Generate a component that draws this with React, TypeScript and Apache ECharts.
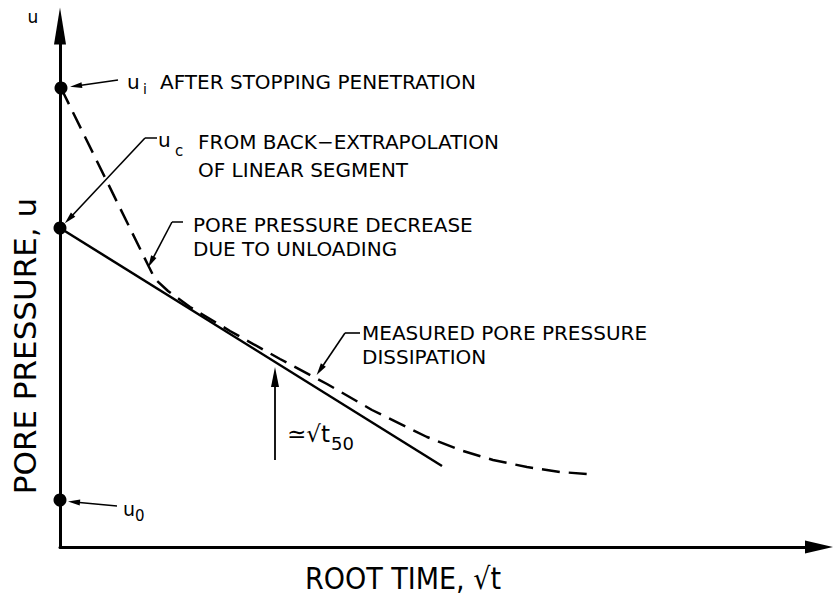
import React, { useEffect, useRef } from 'react';
import * as echarts from 'echarts';

// Schematic units: x = root time, y = pore pressure (arbitrary)
const X_MAX = 759;
const Y_MAX = 521;

// Linear segment back-extrapolated to u_c
const linearSegment: [number, number][] = [
  [0, 319],
  [382, 81],
];

// Measured pore pressure dissipation (dashed)
const measuredCurve: [number, number][] = [
  [1, 459], [89, 280], [95, 268], [108, 256], [130, 240], [170, 216], [220, 188], [267, 163],
  [312, 137], [367, 110], [400, 97], [433, 87], [467, 80], [500, 75], [528, 73],
];

// Key pore pressures marked on the u axis
const keyPointNames = ['u_i', 'u_c', 'u_0'];
const keyPointValues: [number, number][] = [
  [1, 459],
  [0, 319],
  [0, 47],
];

// Leader stubs (no arrowhead) and pointers (arrowhead at end)
const leaderStubs: [number, number][][] = [
  [[97, 409], [85, 409]],
  [[123, 325], [112, 325]],
  [[300, 214], [285, 214]],
];
const leaderPointers: [number, number][][] = [
  [[58, 467], [16, 461]],
  [[85, 409], [9, 328]],
  [[112, 325], [91, 285]],
  [[285, 214], [260, 177]],
  [[57, 41], [14, 45]],
];

// Arrow marking ~sqrt(t50)
const t50Arrow: [number, number][] = [
  [215, 87],
  [215, 170],
];

// Texts
const axisTopLabel = 'u';
const noteUi = 'AFTER STOPPING PENETRATION';
const noteUcLines = ['FROM BACK\u2212EXTRAPOLATION', 'OF LINEAR SEGMENT'];
const noteUnloadLines = ['PORE PRESSURE DECREASE', 'DUE TO UNLOADING'];
const noteMeasuredLines = ['MEASURED PORE PRESSURE', 'DISSIPATION'];
const xAxisTitle = 'ROOT TIME, \u221At';
const yAxisTitle = 'PORE PRESSURE, u';
const t50Main = '\u2243\u221At';
const t50Sub = '50';

const FONT = '"DejaVu Sans", "Liberation Sans", sans-serif';
const FONT_C = '"DejaVu Sans Condensed", "DejaVu Sans", sans-serif';

function txt(text: string, x: number, y: number, size: number, extra: any = {}) {
  return {
    type: 'text',
    x,
    y,
    silent: true,
    rotation: extra.rotation || 0,
    style: {
      text,
      fontSize: size,
      fontFamily: extra.family || FONT,
      fill: '#000',
      align: extra.align || 'left',
      verticalAlign: 'middle',
    },
  };
}

export default function App() {
  const ref = useRef<HTMLDivElement>(null);

  useEffect(() => {
    document.body.style.margin = '0';
    if (!ref.current) return;
    const chart = echarts.init(ref.current, null, { renderer: 'svg' });

    const graphic: any[] = [
      txt(axisTopLabel, 33, 17, 17, { align: 'center' }),
      txt('u', 127, 82, 20),
      txt('i', 143, 89, 14),
      txt(noteUi, 160, 82, 20),
      txt('u', 158, 140, 20),
      txt('c', 175, 151, 15),
      txt(noteUcLines[0], 198, 142, 20),
      txt(noteUcLines[1], 198, 170, 20),
      txt(noteUnloadLines[0], 193, 225, 20),
      txt(noteUnloadLines[1], 193, 249, 20),
      txt(noteMeasuredLines[0], 362, 333, 20),
      txt(noteMeasuredLines[1], 362, 357, 20),
      txt('u', 123, 509, 19),
      txt('0', 135, 516, 15),
      txt(t50Main, 287, 434, 23),
      txt(t50Sub, 331, 443, 18),
      txt(xAxisTitle, 403, 578, 30, { align: 'center', family: FONT_C }),
      txt(yAxisTitle, 25, 346, 31, { align: 'center', rotation: Math.PI / 2 }),
    ];

    const axisCommon = {
      type: 'value',
      axisTick: { show: false },
      axisLabel: { show: false },
      splitLine: { show: false },
    };

    chart.setOption({
      animation: false,
      backgroundColor: '#fff',
      grid: { left: 60, right: 14, top: 26, bottom: 50 },
      xAxis: {
        ...axisCommon,
        min: 0,
        max: X_MAX,
        axisLine: {
          show: true,
          symbol: ['none', 'triangle'],
          symbolSize: [13, 28],
          lineStyle: { color: '#000', width: 3 },
        },
      },
      yAxis: {
        ...axisCommon,
        min: 0,
        max: Y_MAX,
        axisLine: {
          show: true,
          symbol: ['none', 'triangle'],
          symbolSize: [12, 37],
          lineStyle: { color: '#000', width: 3 },
        },
      },
      series: [
        {
          type: 'line',
          data: linearSegment,
          showSymbol: false,
          lineStyle: { color: '#000', width: 2.5 },
          z: 3,
        },
        {
          type: 'line',
          data: measuredCurve,
          showSymbol: false,
          smooth: false,
          lineStyle: { color: '#000', width: 2.5, type: [18, 9] },
          z: 3,
        },
        {
          type: 'lines',
          coordinateSystem: 'cartesian2d',
          symbol: ['none', 'none'],
          lineStyle: { color: '#000', width: 1.6, opacity: 1 },
          data: leaderStubs.map((coords) => ({ coords })),
          z: 4,
        },
        {
          type: 'lines',
          coordinateSystem: 'cartesian2d',
          symbol: ['none', 'triangle'],
          symbolSize: [1, [6, 12]],
          lineStyle: { color: '#000', width: 1.6, opacity: 1 },
          data: leaderPointers.map((coords) => ({ coords })),
          z: 4,
        },
        {
          type: 'lines',
          coordinateSystem: 'cartesian2d',
          symbol: ['none', 'triangle'],
          symbolSize: [1, [8, 20]],
          lineStyle: { color: '#000', width: 1.8, opacity: 1 },
          data: [{ coords: t50Arrow }],
          z: 4,
        },
        {
          type: 'scatter',
          data: keyPointValues.map((v, i) => ({ name: keyPointNames[i], value: v })),
          symbol: 'circle',
          symbolSize: 13,
          itemStyle: { color: '#000', opacity: 1 },
          z: 5,
        },
      ],
      graphic,
    });

    return () => chart.dispose();
  }, []);

  return <div ref={ref} style={{ width: 833, height: 597 }} />;
}
